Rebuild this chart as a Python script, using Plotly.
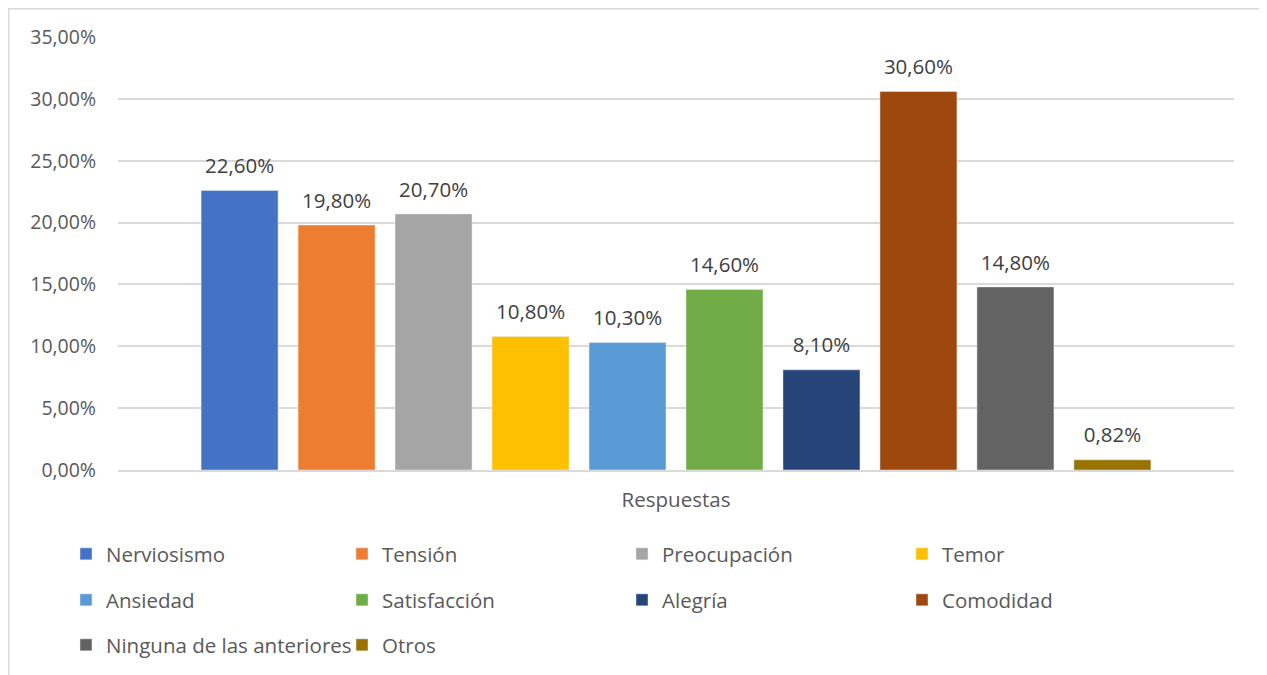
import plotly.graph_objects as go

categories = ["Respuestas"]
series_names = ["Nerviosismo", "Tensión", "Preocupación", "Temor", "Ansiedad",
                "Satisfacción", "Alegría", "Comodidad", "Ninguna de las anteriores", "Otros"]
series_values = [0.226, 0.198, 0.207, 0.108, 0.103, 0.146, 0.081, 0.306, 0.148, 0.0082]
colors = ["#4472C4", "#ED7D31", "#A5A5A5", "#FFC000", "#5B9BD5",
          "#70AD47", "#264478", "#9E480E", "#636363", "#997300"]
tick_values = [0, 0.05, 0.10, 0.15, 0.20, 0.25, 0.30, 0.35]

# page body has an 8px margin; work in reference-screen pixels and shift
OFF = 8
W, H = 1267 - OFF, 675 - OFF
L = 118 - OFF
T = 37 - OFF
plot_bottom = 470 - OFF
plot_right = 1234 - OFF
R = W - plot_right
B = H - plot_bottom
pw = W - L - R
ph = H - T - B

FONT = "Open Sans"
LBL = 20.5

def px_to_paper_y(py):
    return (H - B - (py - OFF)) / ph

def px_to_paper_x(px):
    return ((px - OFF) - L) / pw

fig = go.Figure()
# legend positions (reference screen pixels): 4 columns x 3 rows
col_x = [66, 342, 622, 902]
row_y = [554, 600, 645]
layout_legends = {}
for i, (name, val, col) in enumerate(zip(series_names, series_values, colors)):
    lg = "legend" if i == 0 else f"legend{i+1}"
    fig.add_trace(go.Bar(
        x=categories, y=[val], name=name, marker_color=col,
        offsetgroup=str(i), alignmentgroup="a",
        legend=lg,
    ))
    fig.add_trace(go.Scatter(
        x=categories, y=[val], mode="markers+text",
        texttemplate="%{y:.2%}", textposition="top center",
        textfont=dict(size=LBL, color="#404040", family=FONT),
        marker=dict(size=18, color="rgba(0,0,0,0)"),
        offsetgroup=str(i), alignmentgroup="a",
        showlegend=False, hoverinfo="skip", cliponaxis=False,
    ))
    layout_legends[lg] = dict(
        orientation="h", xanchor="left", yanchor="middle",
        x=px_to_paper_x(col_x[i % 4]), y=px_to_paper_y(row_y[i // 4]),
        font=dict(size=LBL, color="#595959", family=FONT),
        bgcolor="rgba(0,0,0,0)", itemclick=False, itemdoubleclick=False,
    )

fig.update_layout(**layout_legends)

fig.update_layout(
    width=W, height=H,
    margin=dict(l=L, r=R, t=T, b=B, autoexpand=False),
    separators=",.",
    barmode="group", bargap=0.131, bargroupgap=0.206,
    scattermode="group",
    plot_bgcolor="white", paper_bgcolor="white",
    font=dict(family=FONT, color="#595959", size=LBL),
    showlegend=True,
    xaxis=dict(showline=True, linecolor="#d9d9d9", linewidth=1.5,
               tickfont=dict(size=LBL, color="#595959"), ticks="",
               showgrid=False, ticklabelstandoff=11),
    yaxis=dict(range=[0, 0.35], tickvals=tick_values, tickformat=".2%",
               showgrid=True, gridcolor="#d9d9d9", gridwidth=1.5,
               zeroline=False, showline=False,
               tickfont=dict(size=19.5, color="#595959"), ticklabelstandoff=21),
    shapes=[dict(type="rect", xref="paper", yref="paper",
                 x0=px_to_paper_x(8.75), x1=px_to_paper_x(1262),
                 y0=px_to_paper_y(700), y1=px_to_paper_y(8.75),
                 line=dict(color="#d9d9d9", width=1.5), fillcolor="rgba(0,0,0,0)",
                 layer="below")],
)

fig.write_html("out.html")
